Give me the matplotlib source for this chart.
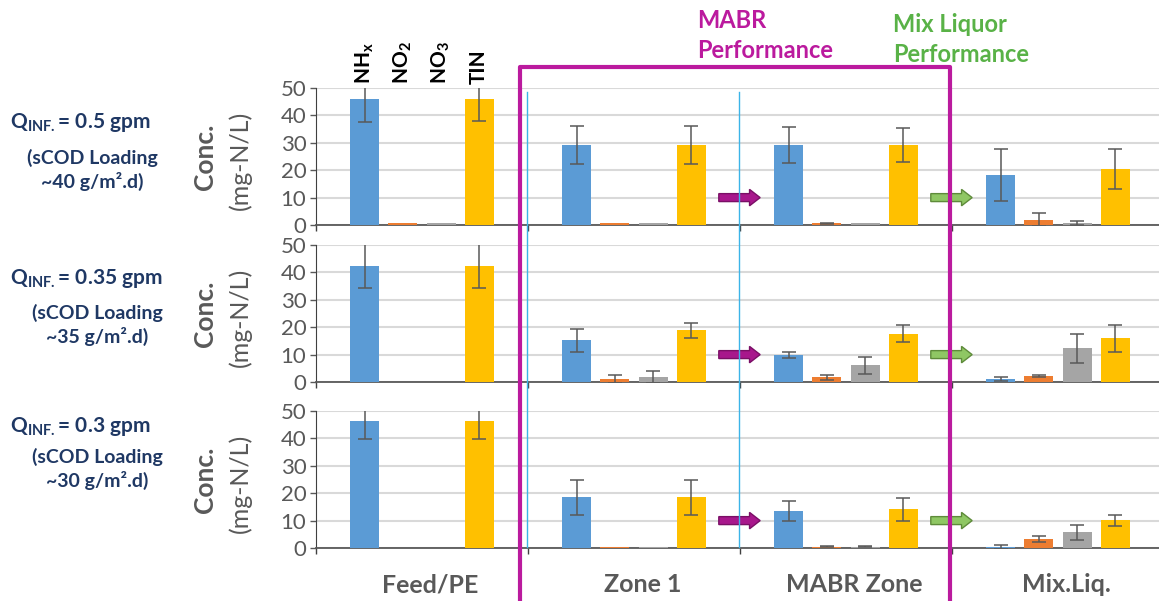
import numpy as np
import matplotlib.pyplot as plt
from matplotlib.lines import Line2D
from matplotlib.patches import FancyArrow

plt.rcParams['font.family'] = ['Lato', 'DejaVu Sans']
plt.rcParams['mathtext.default'] = 'regular'

# data: one row per flow rate, one value per sampling location
categories = ['Feed/PE', 'Zone 1', 'MABR Zone', 'Mix.Liq.']
species = [r'NH$_{x}$', r'NO$_{2}$', r'NO$_{3}$', 'TIN']
flow_labels = [r'Q$_{INF.}$= 0.5 gpm', r'Q$_{INF.}$= 0.35 gpm', r'Q$_{INF.}$= 0.3 gpm']
loading_labels = ['(sCOD Loading\n~40 g/m\u00b2.d)', '(sCOD Loading\n~35 g/m\u00b2.d)',
                  '(sCOD Loading\n~30 g/m\u00b2.d)']

nhx_mean = [[46.0, 29.2, 29.2, 18.2], [42.4, 15.2, 9.9, 1.1], [46.4, 18.5, 13.5, 0.4]]
nhx_err = [[8.5, 6.8, 6.6, 9.6], [8.2, 4.2, 1.0, 0.8], [6.7, 6.5, 3.7, 0.6]]
no2_mean = [[0.7, 0.7, 0.7, 1.9], [0.0, 1.1, 1.7, 2.2], [0.0, 0.5, 0.5, 3.3]]
no2_err = [[0.0, 0.0, 0.2, 2.4], [0.0, 1.3, 0.8, 0.25], [0.0, 0.0, 0.1, 1.2]]
no3_mean = [[0.7, 0.7, 0.7, 0.7], [0.0, 1.7, 6.1, 12.3], [0.0, 0.5, 0.5, 5.7]]
no3_err = [[0.0, 0.0, 0.0, 0.8], [0.0, 2.2, 3.2, 5.2], [0.0, 0.0, 0.15, 2.7]]
tin_mean = [[46.0, 29.2, 29.2, 20.5], [42.4, 18.9, 17.7, 15.9], [46.4, 18.5, 14.1, 10.2]]
tin_err = [[8.0, 6.8, 6.3, 7.2], [8.2, 2.8, 3.2, 4.8], [6.7, 6.5, 4.2, 2.0]]

means = [nhx_mean, no2_mean, no3_mean, tin_mean]
errs = [nhx_err, no2_err, no3_err, tin_err]
colors = ['#5b9bd5', '#ed7d31', '#a5a5a5', '#ffc000']

W, H = 1159, 601
fig = plt.figure(figsize=(W / 100, H / 100), dpi=100)

def px(x, y):
    return x / W, 1 - y / H

# panel extents in pixels (top of 50, bottom at 0)
panel_px = [(88, 225), (245, 382), (411, 548)]
ax_left, ax_right = 316, 1164
gray = '#595959'
navy = '#1f3864'
offsets = np.array([-1.5, -0.5, 0.5, 1.5]) * 0.18
x = np.arange(len(categories)) + 0.5

axes = []
for p, (top, bot) in enumerate(panel_px):
    ax = fig.add_axes([ax_left / W, 1 - bot / H, (ax_right - ax_left) / W, (bot - top) / H])
    axes.append(ax)
    for s in range(4):
        m = np.array(means[s][p])
        e = np.array(errs[s][p])
        ax.bar(x + offsets[s], m, width=0.137, color=colors[s], zorder=3)
        ok = e > 0
        ax.errorbar((x + offsets[s])[ok], m[ok], yerr=e[ok], fmt='none', ecolor=gray,
                    elinewidth=1.1, capsize=5, capthick=1.1, zorder=4)
    ax.set_xlim(0, 4)
    ax.set_ylim(0, 50)
    ax.set_yticks(np.arange(0, 51, 10))
    ax.set_xticks(np.arange(0, 5))
    ax.set_xticklabels([])
    ax.tick_params(axis='y', labelsize=16, labelcolor=gray, color=gray, length=4, width=1,
                   pad=3)
    ax.tick_params(axis='x', color='#404040', length=4, width=1)
    ax.grid(axis='y', color='#d9d9d9', linewidth=1.5, zorder=0)
    for side in ['top', 'right']:
        ax.spines[side].set_visible(False)
    ax.spines['left'].set_color('#404040')
    ax.spines['bottom'].set_color('#595959')
    ax.spines['bottom'].set_linewidth(1.3)
    ax.spines['bottom'].set_zorder(2.5)
    ax.patch.set_alpha(0)

    # flow arrows between stages
    ax.add_patch(FancyArrow(1.9, 10, 0.195, 0, width=2.9, head_width=6.0, head_length=0.05,
                            length_includes_head=True, facecolor='#a8178c',
                            edgecolor='#7a0f66', linewidth=1, zorder=5, clip_on=False))
    ax.add_patch(FancyArrow(2.9, 10, 0.195, 0, width=2.9, head_width=6.0, head_length=0.05,
                            length_includes_head=True, facecolor='#8fc764',
                            edgecolor='#5e8b3a', linewidth=1, zorder=5, clip_on=False))

    # y label
    mid = (top + bot) / 2
    fig.text(*px(205, mid), 'Conc.', rotation=90, ha='center', va='center',
             fontsize=19, fontweight='bold', color=gray)
    fig.text(*px(240, mid + 4), '(mg-N/L)', rotation=90, ha='center', va='center',
             fontsize=18, color=gray)

# left condition labels
flow_y = [122, 278, 427]
load_y = [170, 325, 469]
load_x = [92, 97, 97]
for p in range(3):
    fig.text(*px(10, flow_y[p]), flow_labels[p], ha='left', va='center', fontsize=15,
             fontweight='bold', color=navy)
    fig.text(*px(load_x[p], load_y[p]), loading_labels[p], ha='center', va='center',
             fontsize=14, fontweight='bold', color=navy, linespacing=1.3)

# species labels above the first group
for s in range(4):
    axes[0].annotate(species[s], xy=(x[0] + offsets[s], H - 84),
                     xycoords=('data', 'figure pixels'), rotation=90, ha='center',
                     va='bottom', fontsize=15, fontweight='bold', color='black')

# category labels below the last panel
for i, cat in enumerate(categories):
    axes[2].annotate(cat, xy=(x[i] + 0.04, H - 585), xycoords=('data', 'figure pixels'),
                     ha='center', va='center', fontsize=18, fontweight='bold', color=gray)

# thin blue stage separators
for xb in [0.995, 1.995]:
    xf = axes[0].transData.transform((xb, 0))[0] / W
    fig.add_artist(Line2D([xf, xf], [px(0, 92)[1], px(0, 547)[1]], color='#3cb4e8',
                          linewidth=1, transform=fig.transFigure, zorder=6))

# MABR performance box
mag = '#bb1a9e'
xl, xr = px(520, 0)[0], px(950, 0)[0]
yt = px(0, 67)[1]
fig.add_artist(Line2D([xl, xl, xr, xr], [-0.01, yt, yt, -0.01], color=mag, linewidth=3,
                      transform=fig.transFigure, zorder=7))

fig.text(*px(697, 20), 'MABR', ha='left', va='center', fontsize=17, fontweight='bold', color=mag)
fig.text(*px(697, 51), 'Performance', ha='left', va='center', fontsize=17, fontweight='bold',
         color=mag)
fig.text(*px(893, 24), 'Mix Liquor', ha='left', va='center', fontsize=17, fontweight='bold',
         color='#59b247')
fig.text(*px(893, 55), 'Performance', ha='left', va='center', fontsize=17, fontweight='bold',
         color='#59b247')

fig.savefig('out.png', dpi=100)
